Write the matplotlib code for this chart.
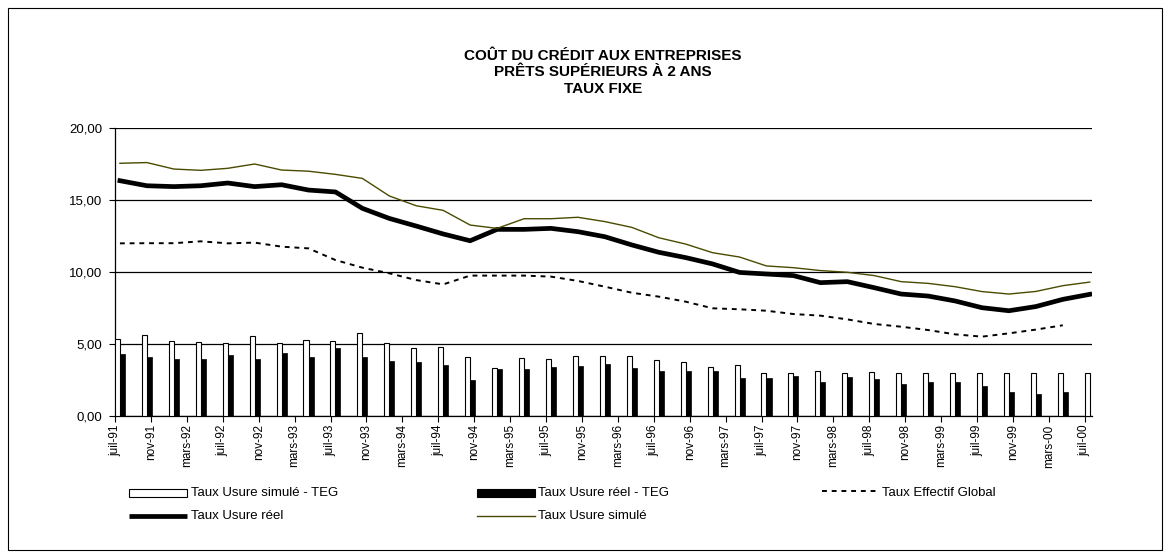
import numpy as np
import matplotlib.pyplot as plt
from matplotlib.patches import Rectangle
from matplotlib.lines import Line2D

# axe des dates : une etiquette tous les 4 mois
tick_labels = ["juil-91", "nov-91",
               "mars-92", "juil-92", "nov-92",
               "mars-93", "juil-93", "nov-93",
               "mars-94", "juil-94", "nov-94",
               "mars-95", "juil-95", "nov-95",
               "mars-96", "juil-96", "nov-96",
               "mars-97", "juil-97", "nov-97",
               "mars-98", "juil-98", "nov-98",
               "mars-99", "juil-99", "nov-99",
               "mars-00", "juil-00"]

# donnees trimestrielles de juil-91 a juil-00
taux_usure_simule = [17.55, 17.6, 17.15, 17.06, 17.2, 17.5, 17.08, 17.0, 16.78, 16.5,
                     15.28, 14.6, 14.28, 13.26, 13.03, 13.7, 13.7, 13.8, 13.5, 13.1,
                     12.38, 11.94, 11.34, 11.04, 10.42, 10.3, 10.1, 9.98, 9.75, 9.33,
                     9.21, 8.98, 8.64, 8.47, 8.65, 9.05, 9.3]
taux_usure_reel = [16.34, 15.99, 15.93, 15.99, 16.18, 15.93, 16.06, 15.69, 15.56, 14.42,
                   13.72, 13.19, 12.64, 12.17, 12.96, 12.96, 13.03, 12.8, 12.45, 11.88,
                   11.37, 11.0, 10.56, 9.97, 9.86, 9.75, 9.26, 9.33, 8.91, 8.47,
                   8.33, 7.99, 7.52, 7.31, 7.6, 8.1, 8.45]
teg = [11.99, 12.0, 12.0, 12.13, 11.99, 12.04, 11.76, 11.64, 10.83, 10.3,
       9.91, 9.44, 9.14, 9.75, 9.75, 9.75, 9.68, 9.38, 8.98, 8.56,
       8.29, 7.94, 7.48, 7.41, 7.31, 7.08, 6.97, 6.71, 6.39, 6.2,
       5.97, 5.67, 5.51, 5.74, 6.0, 6.3, np.nan]
ecart_simule = [5.35, 5.6, 5.23, 5.11, 5.09, 5.56, 5.05, 5.25, 5.18, 5.74,
                5.05, 4.75, 4.82, 4.12, 3.36, 4.0, 3.96, 4.17, 4.17, 4.19,
                3.89, 3.73, 3.43, 3.54, 3.01, 3.01, 3.13, 3.01, 3.08, 3.01,
                3.01, 3.01, 3.01, 3.01, 3.0, 3.0, 3.0]
ecart_reel = [4.31, 4.07, 3.96, 3.94, 4.24, 3.94, 4.35, 4.07, 4.75, 4.12,
              3.84, 3.77, 3.54, 2.5, 3.26, 3.26, 3.43, 3.5, 3.61, 3.36,
              3.15, 3.13, 3.13, 2.62, 2.62, 2.8, 2.34, 2.69, 2.57, 2.22,
              2.34, 2.38, 2.08, 1.67, 1.5, 1.7, np.nan]

plt.rcParams['font.family'] = ['Liberation Sans', 'DejaVu Sans']

W, H = 1170, 558
OLIVE = '#4a4a00'
TEG_DASH = (0, (2.5, 2.5))

fig = plt.figure(figsize=(W / 100, H / 100), dpi=100)
ax = fig.add_axes([115 / W, 1 - 416 / H, 977 / W, 288 / H])

# mois depuis juil-91 (milieu du mois)
x = np.arange(len(taux_usure_reel)) * 3 + 0.55
w = 0.56

ax.bar(x - w / 2, ecart_simule, width=w, color='white', edgecolor='black', linewidth=0.8, zorder=3)
ax.bar(x + w / 2, ecart_reel, width=w, color='black', edgecolor='black', linewidth=0.5, zorder=3)
ax.plot(x, teg, color='black', linewidth=1.4, linestyle=TEG_DASH, zorder=4)
ax.plot(x, taux_usure_reel, color='black', linewidth=3.4, zorder=5)
ax.plot(x, taux_usure_simule, color=OLIVE, linewidth=1.0, zorder=6)

ax.set_xlim(0, 108.8)
ax.set_ylim(0, 20)
ax.set_yticks([0, 5, 10, 15, 20])
ax.set_yticklabels(["0,00", "5,00", "10,00", "15,00", "20,00"], fontsize=9.5)
ax.set_xticks(np.arange(len(tick_labels)) * 4)
ax.set_xticklabels(tick_labels, rotation=90, fontsize=8.5,
                   family=['Liberation Sans Narrow', 'Liberation Sans'])
ax.tick_params(axis='y', length=4, width=0.8, pad=5)
ax.tick_params(axis='x', length=4, width=0.8, pad=2)
ax.yaxis.grid(True, color='black', linewidth=0.9)
ax.set_axisbelow(True)
for s in ['top', 'right']:
    ax.spines[s].set_visible(False)
ax.spines['left'].set_linewidth(0.9)
ax.spines['bottom'].set_linewidth(0.9)

# titre sur trois lignes, centre sur la zone de trace
title_lines = ["COÛT DU CRÉDIT AUX ENTREPRISES", "PRÊTS SUPÉRIEURS À 2 ANS", "TAUX FIXE"]
for i, line in enumerate(title_lines):
    fig.text(603 / W, 1 - (56 + 16.5 * i) / H, line, ha='center', va='center',
             fontsize=11, fontweight='bold')

# legende dessinee a la main (deux lignes, trois colonnes)
def fy(py):
    return 1 - py / H

fig.add_artist(Rectangle((129 / W, fy(497)), 58 / W, 8 / H, transform=fig.transFigure,
                         facecolor='white', edgecolor='black', linewidth=0.8))
fig.text(191 / W, fy(493), "Taux Usure simulé - TEG", va='center', fontsize=9.5)
fig.add_artist(Rectangle((477 / W, fy(497)), 58 / W, 8 / H, transform=fig.transFigure,
                         facecolor='black', edgecolor='black', linewidth=0.8))
fig.text(538 / W, fy(493), "Taux Usure réel - TEG", va='center', fontsize=9.5)
fig.add_artist(Line2D([822 / W, 876 / W], [fy(491), fy(491)], transform=fig.transFigure,
                      color='black', linewidth=1.4, linestyle=TEG_DASH))
fig.text(882 / W, fy(493), "Taux Effectif Global", va='center', fontsize=9.5)
fig.add_artist(Line2D([129 / W, 187 / W], [fy(516), fy(516)], transform=fig.transFigure,
                      color='black', linewidth=3.4, solid_capstyle='butt'))
fig.text(191 / W, fy(516), "Taux Usure réel", va='center', fontsize=9.5)
fig.add_artist(Line2D([477 / W, 535 / W], [fy(516), fy(516)], transform=fig.transFigure,
                      color=OLIVE, linewidth=1.0))
fig.text(538 / W, fy(516), "Taux Usure simulé", va='center', fontsize=9.5)

fig.add_artist(Rectangle((8 / W, 8 / H), 1154 / W, 542 / H, transform=fig.transFigure,
                         fill=False, edgecolor='black', linewidth=0.8))

fig.savefig('out.png', dpi=100)
